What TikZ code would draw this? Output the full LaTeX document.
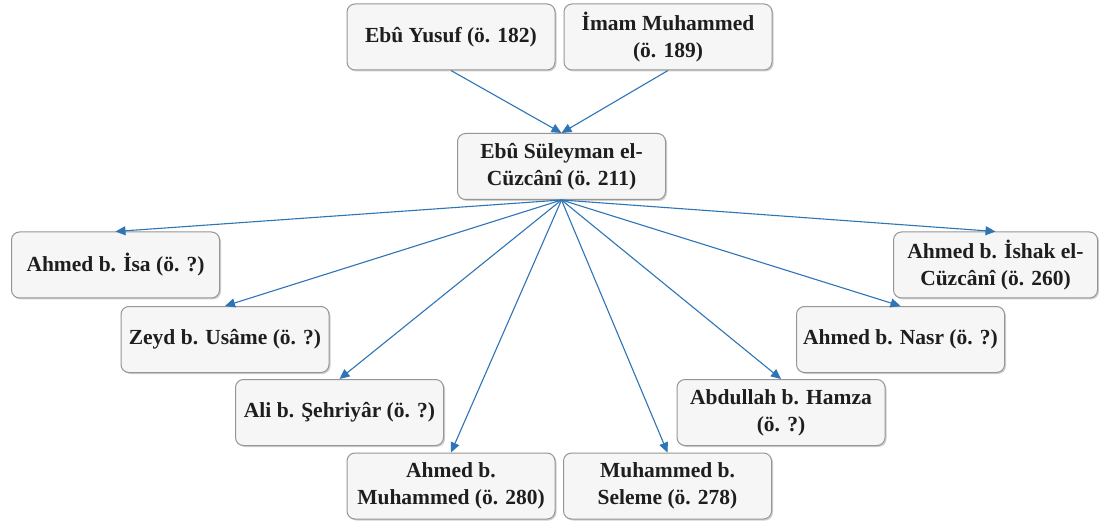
\documentclass[tikz,border=0pt]{standalone}
\usepackage{fontspec}
\setmainfont{Liberation Serif}
\usetikzlibrary{arrows.meta,shadows}
\definecolor{boxfill}{RGB}{246,246,246}
\definecolor{boxdraw}{RGB}{150,150,150}
\definecolor{arrowblue}{RGB}{46,117,182}
\definecolor{textcol}{RGB}{30,30,30}
\begin{document}
\begin{tikzpicture}[x=1pt,y=-1pt,
  person/.style={draw=boxdraw, fill=boxfill, rounded corners=8pt, line width=1pt,
    minimum width=208pt, minimum height=66pt, inner sep=0pt, align=center,
    text=textcol, font=\fontsize{21.5}{27}\selectfont\bfseries,
    drop shadow={shadow xshift=1.5pt, shadow yshift=-1.5pt, fill=black!30, opacity=0.6}},
  link/.style={draw=arrowblue, line width=1.1pt, -{Triangle[length=10pt,width=9pt]}}]
\useasboundingbox (0,0) rectangle (1099,526);
\fill[white] (0,0) rectangle (1099,526);

\node[person] (yusuf)    at (451,37)    {Ebû Yusuf (ö. 182)};
\node[person] (imam)     at (668,37)    {İmam Muhammed\\(ö. 189)};
\node[person] (suleyman) at (561.5,166.5) {Ebû Süleyman el-\\Cüzcânî (ö. 211)};
\node[person] (isa)      at (115.5,265) {Ahmed b. İsa (ö. ?)};
\node[person, minimum width=204pt] (ishak) at (995.5,265) {Ahmed b. İshak el-\\Cüzcânî (ö. 260)};
\node[person] (zeyd)     at (225,339.5) {Zeyd b. Usâme (ö. ?)};
\node[person] (nasr)     at (900.5,339.5) {Ahmed b. Nasr (ö. ?)};
\node[person] (ali)      at (339.5,412.5) {Ali b. Şehriyâr (ö. ?)};
\node[person] (abdullah) at (781,412.5) {Abdullah b. Hamza\\(ö. ?)};
\node[person] (ahmedm)   at (451,486)   {Ahmed b.\\Muhammed (ö. 280)};
\node[person] (seleme)   at (667.5,486) {Muhammed b.\\Seleme (ö. 278)};

\draw[link] (yusuf.south) -- (suleyman.north);
\draw[link] (imam.south) -- (suleyman.north);
\foreach \t in {isa,ishak,zeyd,nasr,ali,abdullah,ahmedm,seleme}
  \draw[link] (suleyman.south) -- (\t.north);
\end{tikzpicture}
\end{document}
